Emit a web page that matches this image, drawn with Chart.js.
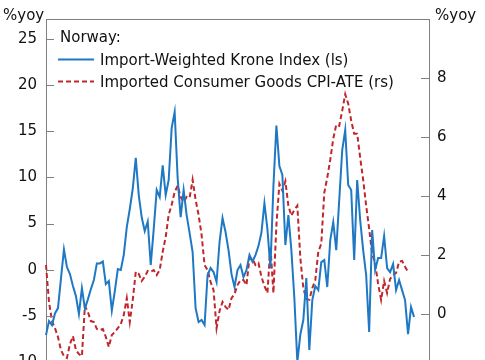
<!DOCTYPE html>
<html><head><meta charset="utf-8">
<script src="https://cdn.jsdelivr.net/npm/chart.js@4"></script>
<style>
html,body{margin:0;padding:0;overflow:hidden;background:#fff;width:485px;height:360px;}
#wrap{position:absolute;left:0;top:0;width:485px;height:400px;}
</style></head><body>
<div id="wrap"><canvas id="c"></canvas></div>
<script>
// ---- data ----
const periods = Array.from({length: 129}, (_, i) => String(i + 1));
const kroneIndex = [
 -7.07,-5.55,-5.99,-4.72,-4.15,-0.97,2.19,0.29,-0.47,-1.76,
 -2.85,-4.79,-2.0,-4.2,-3.2,-2.09,-1.11,0.69,0.69,0.89,
 -1.55,-1.22,-4.42,-2.31,0.08,-0.03,1.64,4.62,6.57,8.79,
 12.1,8.08,5.65,4.19,5.22,0.51,4.40,8.63,7.87,11.3,
 8.08,9.71,15.34,17.07,9.92,5.70,8.63,5.92,3.97,1.92,
 -4.15,-5.66,-5.44,-5.98,-0.57,0.18,-0.25,-1.33,3.00,5.60,
 4.08,2.13,-0.47,-1.87,-0.03,0.51,-0.79,-0.03,1.59,0.89,
 1.59,2.56,4.03,7.2,4.40,0.18,9.0,15.6,11.22,10.25,
 2.67,5.92,2.13,-3.06,-10.0,-7.0,-5.44,-0.90,-8.69,-3.28,
 -1.76,-2.20,0.83,1.05,-1.87,3.21,5.16,2.13,7.54,12.95,
 15.12,9.17,8.63,1.05,9.71,5.38,2.13,-0.57,-6.74,4.30,
 -0.03,1.27,1.27,3.65,0.18,-0.25,0.62,-2.20,-1.11,-2.20,
 -3.28,-6.96,-4.04,-5.12
];
const importedCPI = [
 1.66,0.41,-0.24,-0.48,-0.78,-1.22,-1.43,-1.49,-1.02,-0.75,
 -1.22,-1.36,-1.43,0.27,0.07,-0.24,-0.27,-0.51,-0.54,-0.51,
 -0.78,-1.12,-0.71,-0.61,-0.48,-0.34,-0.03,0.54,-0.27,0.48,
 1.43,1.36,1.12,1.26,1.46,1.43,1.49,1.32,1.49,2.11,
 2.61,3.36,3.70,4.14,4.35,3.97,3.80,3.97,3.94,4.55,
 3.87,3.36,2.68,1.66,1.49,1.09,0.81,-0.48,0.10,0.41,
 0.24,0.14,0.54,0.68,0.98,1.15,1.15,0.98,1.90,1.87,
 1.66,1.73,1.26,0.95,0.71,2.3,0.71,3.02,4.41,4.18,
 4.5,3.67,3.33,3.53,3.67,1.90,0.88,0.51,0.48,0.88,
 1.15,2.11,2.38,4.11,4.62,5.23,5.94,6.42,6.38,6.89,
 7.45,7.13,6.55,6.11,6.11,5.30,4.55,3.67,2.89,2.04,
 1.73,1.02,0.48,1.12,0.71,1.19,1.32,1.39,1.77,1.80,
 1.60,1.43
];
const leftTicks = [-10, -5, 0, 5, 10, 15, 20, 25];
const rightTicks = [-2, 0, 2, 4, 6, 8];
const legendTitle = 'Norway:';
const legendLabels = ['Import-Weighted Krone Index (ls)', 'Imported Consumer Goods CPI-ATE (rs)'];
const unitLabel = '%yoy';

// ---- style ----
const BLUE = '#1f78c4', RED = '#c0272d', AXIS = '#808080', TEXT = '#111111';
const FONT = '"DejaVu Sans", sans-serif';

const frame = {
  id: 'frame',
  afterDraw(chart) {
    const {ctx, chartArea: a, scales} = chart;
    ctx.save();
    ctx.strokeStyle = AXIS; ctx.lineWidth = 1; ctx.setLineDash([]);
    ctx.beginPath();
    ctx.moveTo(a.left, Math.round(a.top) + 0.5); ctx.lineTo(a.right, Math.round(a.top) + 0.5);
    ctx.moveTo(a.left, Math.round(a.bottom) - 0.5); ctx.lineTo(a.right, Math.round(a.bottom) - 0.5);
    scales.yL.ticks.forEach(t => {
      const y = Math.round(scales.yL.getPixelForValue(t.value)) + 0.5;
      ctx.moveTo(a.left, y); ctx.lineTo(a.left + 8, y);
    });
    scales.yR.ticks.forEach(t => {
      const y = Math.round(scales.yR.getPixelForValue(t.value)) + 0.5;
      ctx.moveTo(a.right - 8, y); ctx.lineTo(a.right, y);
    });
    ctx.stroke();

    ctx.fillStyle = TEXT;
    ctx.font = '15px ' + FONT;
    ctx.textBaseline = 'alphabetic';
    ctx.textAlign = 'left';
    ctx.fillText(unitLabel, 3, 20);
    ctx.fillText(unitLabel, 435, 20);

    // legend
    ctx.fillText(legendTitle, 60, 42);
    ctx.lineWidth = 2;
    ctx.strokeStyle = BLUE; ctx.setLineDash([]);
    ctx.beginPath(); ctx.moveTo(58, 59.5); ctx.lineTo(94, 59.5); ctx.stroke();
    ctx.fillText(legendLabels[0], 100, 64.5);
    ctx.strokeStyle = RED; ctx.setLineDash([5, 3]);
    ctx.beginPath(); ctx.moveTo(58, 81.5); ctx.lineTo(94, 81.5); ctx.stroke();
    ctx.setLineDash([]);
    ctx.fillText(legendLabels[1], 100, 86.5);
    ctx.restore();
  }
};

new Chart(document.getElementById('c'), {
  type: 'line',
  data: {
    labels: periods,
    datasets: [
      {label: legendLabels[0], data: kroneIndex, yAxisID: 'yL', borderColor: BLUE, borderWidth: 2,
       pointRadius: 0, tension: 0, fill: false},
      {label: legendLabels[1], data: importedCPI, yAxisID: 'yR', borderColor: RED, borderWidth: 2,
       borderDash: [5, 3], pointRadius: 0, tension: 0, fill: false}
    ]
  },
  options: {
    responsive: true, maintainAspectRatio: false, animation: false,
    layout: {padding: {top: 19, bottom: 27, left: 0, right: 0}},
    plugins: {legend: {display: false}, tooltip: {enabled: false}, title: {display: false}},
    scales: {
      x: {display: false, offset: false},
      yL: {
        position: 'left', min: -11.17, max: 27.13,
        afterFit(s) { s.width = 46; },
        afterBuildTicks(s) { s.ticks = leftTicks.map(v => ({value: v})); },
        grid: {display: false, drawTicks: false},
        border: {display: true, color: AXIS, width: 1},
        ticks: {padding: 9, color: TEXT, font: {family: FONT, size: 15}}
      },
      yR: {
        position: 'right', min: -2, max: 10,
        afterFit(s) { s.width = 56; },
        afterBuildTicks(s) { s.ticks = rightTicks.map(v => ({value: v})); },
        grid: {display: false, drawTicks: false},
        border: {display: true, color: AXIS, width: 1},
        ticks: {padding: 8, color: TEXT, font: {family: FONT, size: 15}}
      }
    }
  },
  plugins: [frame]
});
</script>
</body></html>
